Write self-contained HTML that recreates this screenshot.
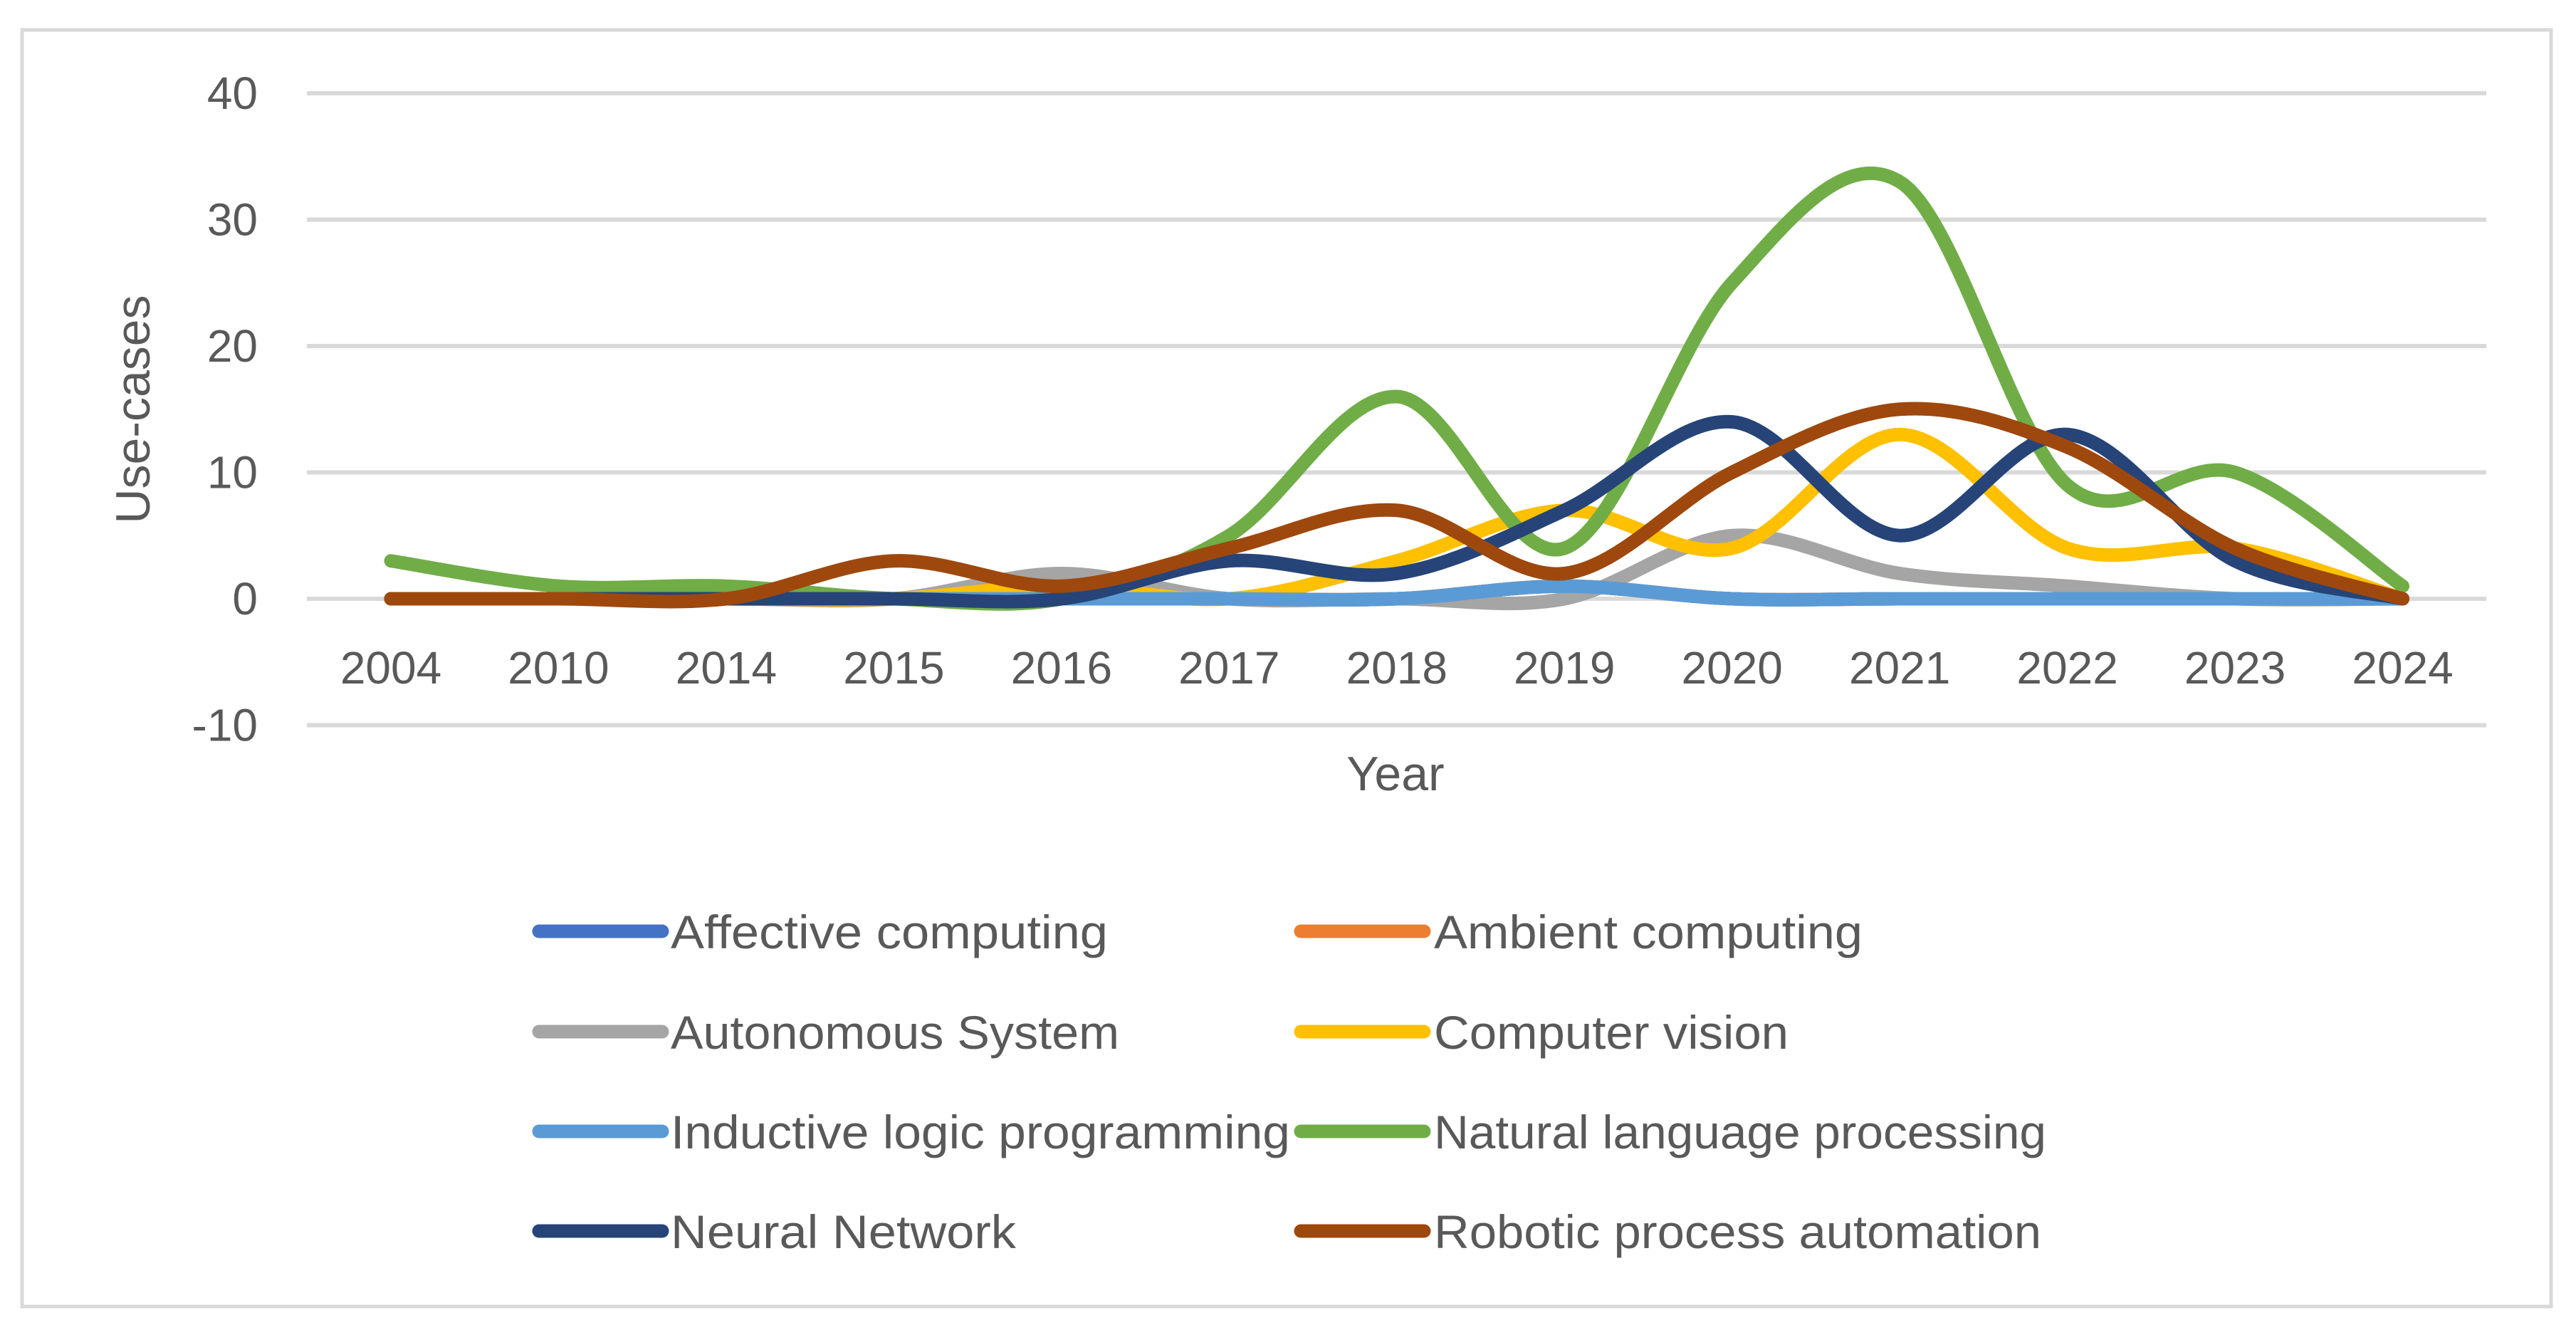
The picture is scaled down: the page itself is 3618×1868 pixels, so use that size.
<!DOCTYPE html>
<html><head><meta charset="utf-8"><style>
html,body{margin:0;padding:0;background:#fff;}
svg{display:block;font-family:"Liberation Sans",sans-serif;}
</style></head><body>
<svg id="chart" width="3618" height="1868" viewBox="0 0 3618 1868">
<rect x="31" y="42" width="3552" height="1793" fill="#fff" stroke="#D9D9D9" stroke-width="5"/>
<g id="grid"></g>
<g id="yticks"></g>
<g id="xticks"></g>
<g id="series"></g>
<text x="187" y="575" transform="rotate(-90 187 575)" text-anchor="middle" dominant-baseline="central" font-size="68" fill="#595959">Use-cases</text>
<text x="1960" y="1110" text-anchor="middle" font-size="68" fill="#595959">Year</text>
<g id="legend"></g>
</svg>
<script>
const categories = ["2004","2010","2014","2015","2016","2017","2018","2019","2020","2021","2022","2023","2024"];
const yTicks = [-10, 0, 10, 20, 30, 40];
const seriesNames = ["Affective computing","Ambient computing","Autonomous System","Computer vision","Inductive logic programming","Natural language processing","Neural Network","Robotic process automation"];
const affective = [0,0,0,0,0,0,0,1,0,0,0,0,0];
const ambient = [0,0,0,0,0,0,0,1,0,0,0,0,0];
const autonomous = [0,0,0,0,2,0,0,0,5,2,1,0,0];
const computerVision = [0,0,0,0,1,0,3,7,4,13,4,4,0];
const inductive = [0,0,0,0,0,0,0,1,0,0,0,0,0];
const nlp = [3,1,1,0,0,5,16,4,25,33,9,10,1];
const neural = [0,0,0,0,0,3,2,7,14,5,13,3,0];
const robotic = [0,0,0,3,1,4,7,2,10,15,12,4,0];

const seriesValues = [affective, ambient, autonomous, computerVision, inductive, nlp, neural, robotic];
const colors = ["#4472C4","#ED7D31","#A5A5A5","#FFC000","#5B9BD5","#70AD47","#264478","#9E480E"];
const NS = "http://www.w3.org/2000/svg";
const plotL = 431, plotR = 3492, firstX = 549, step = (plotR - plotL) / categories.length;
function xPos(i){ return firstX + i * step; }
function yPos(v){ return 841 - v * 17.75; }
function mk(tag, attrs, parent){ const e = document.createElementNS(NS, tag); for (const k in attrs) e.setAttribute(k, attrs[k]); parent.appendChild(e); return e; }

const grid = document.getElementById('grid'), yt = document.getElementById('yticks'), xt = document.getElementById('xticks');
yTicks.forEach(t => {
  const l = mk('line', {x1: plotL, x2: plotR, y1: yPos(t), y2: yPos(t), stroke: '#D9D9D9', 'stroke-width': 6}, grid);
  
  
  const tx = mk('text', {x: 362, y: yPos(t), 'text-anchor': 'end', 'dominant-baseline': 'central', 'font-size': 64, fill: '#595959'}, yt);
  tx.textContent = t;
  
  
});
categories.forEach((c, i) => {
  const tx = mk('text', {x: xPos(i), y: 960, 'text-anchor': 'middle', 'font-size': 64, fill: '#595959'}, xt);
  tx.textContent = c;
  
  
});

function smoothPath(vals){
  const p = vals.map((v, i) => [xPos(i), yPos(v)]);
  let d = 'M' + p[0][0] + ',' + p[0][1];
  for (let i = 0; i < p.length - 1; i++){
    const p0 = p[i - 1] || p[i], p1 = p[i], p2 = p[i + 1], p3 = p[i + 2] || p[i + 1];
    const c1x = p1[0] + (p2[0] - p0[0]) / 6, c1y = p1[1] + (p2[1] - p0[1]) / 6;
    const c2x = p2[0] - (p3[0] - p1[0]) / 6, c2y = p2[1] - (p3[1] - p1[1]) / 6;
    d += ' C' + c1x + ',' + c1y + ' ' + c2x + ',' + c2y + ' ' + p2[0] + ',' + p2[1];
  }
  return d;
}
const sg = document.getElementById('series');
seriesValues.forEach((vals, s) => {
  const path = mk('path', {d: smoothPath(vals), fill: 'none', stroke: colors[s], 'stroke-width': 19, 'stroke-linecap': 'round', 'stroke-linejoin': 'round'}, sg);
  
  
});

const lg = document.getElementById('legend');
const legendRows = [1308, 1449, 1589, 1729];
const legendCols = [[757, 930, 942], [1827, 2000, 2014]];
const legendWidths = [614, 602, 630, 498, 870, 860, 485, 853];
seriesNames.forEach((n, s) => {
  const col = legendCols[s % 2], y = legendRows[Math.floor(s / 2)];
  const g = mk('g', {}, lg);
  
  
  mk('line', {x1: col[0], x2: col[1], y1: y, y2: y, stroke: colors[s], 'stroke-width': 19, 'stroke-linecap': 'round'}, g);
  const tx = mk('text', {x: col[2], y: y + 24, 'font-size': 66, fill: '#595959', textLength: legendWidths[s], lengthAdjust: 'spacingAndGlyphs'}, g);
  tx.textContent = n;
});
</script>
</body></html>
